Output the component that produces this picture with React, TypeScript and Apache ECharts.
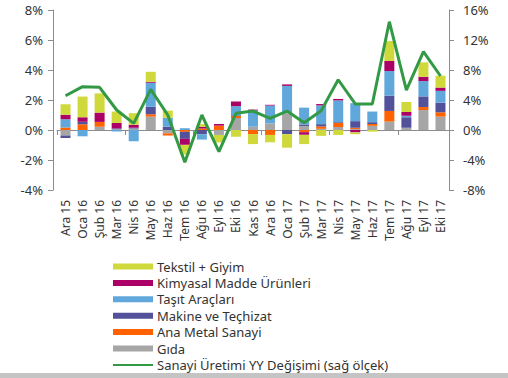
import React, { useEffect, useRef } from "react";
import * as echarts from "echarts";

const categories = ["Ara 15","Oca 16","Şub 16","Mar 16","Nis 16","May 16","Haz 16","Tem 16","Ağu 16","Eyl 16","Eki 16","Kas 16","Ara 16","Oca 17","Şub 17","Mar 17","Nis 17","May 17","Haz 17","Tem 17","Ağu 17","Eyl 17","Eki 17"];

const gida = [-0.37, 0, 0.22, 0.05, 0.1, 0.89, -0.22, 0, 0, -0.33, 0.8, 0.22, 0.44, 1.11, 0.27, 0.08, 0.2, 0.07, 0.28, 0.56, 0.15, 1.33, 0.89];
const anaMetal = [0.16, 0.38, 0.32, 0, 0, 0.16, -0.15, -0.12, 0.1, 0.29, 0.13, -0.27, -0.33, 0, -0.15, 0.16, 0.27, 0.08, 0.12, 0.71, 0, 0.2, 0.29];
const makine = [-0.16, 0.17, 0, 0.06, 0.05, 0.5, 0.22, -0.47, -0.28, 0, 0.05, 0, 0, -0.28, 0.1, 0.15, 0.05, 0.44, 0.12, 1.02, 0.7, 0.71, 0.64];
const tasit = [0.56, -0.42, 0, -0.1, -0.75, 1.6, 0.6, 0.12, -0.36, 0, 0.61, 1.09, 1.19, 1.83, 1.12, 1.25, 1.45, 1.2, 0.71, 1.64, 0.1, 1.02, 0.79];
const kimya = [0.29, 0.3, 0.62, 0.36, 0.2, 0.06, 0, -0.4, 0.12, 0.11, 0.31, 0.05, 0.05, 0.1, -0.17, 0.09, 0.1, -0.16, 0, 0.67, 0.25, 0.29, 0.22];
const tekstil = [0.71, 1.38, 1.28, 0.76, 0.77, 0.67, 0.47, -0.65, 0.17, -0.5, -0.45, -0.67, -0.49, -0.9, -0.62, -0.39, -0.33, -0.12, -0.11, 1.33, 0.67, 0.96, 0.79];
const sanayi = [4.57, 5.78, 5.69, 2.67, 0.89, 5.42, 2.0, -4.31, 2.0, -2.89, 2.22, 2.53, 1.56, 2.53, 0.98, 2.58, 6.7, 3.47, 3.47, 14.44, 5.33, 10.44, 7.2];

const leftTicks = { min: -4, max: 8, interval: 2 };
const rightTicks = { min: -8, max: 16, interval: 4 };

const FONT = "'Noto Sans', sans-serif";
const LINE_NAME = "Sanayi Üretimi YY Değişimi (sağ ölçek)";

export default function App() {
  const ref = useRef<HTMLDivElement>(null);
  useEffect(() => {
    if (!ref.current) return;
    const chart = echarts.init(ref.current, null, { renderer: "svg" });
    const barSeries = [
      { name: "Gıda", data: gida, color: "#a6a6a6" },
      { name: "Ana Metal Sanayi", data: anaMetal, color: "#ff6200" },
      { name: "Makine ve Teçhizat", data: makine, color: "#525199" },
      { name: "Taşıt Araçları", data: tasit, color: "#60a8dc" },
      { name: "Kimyasal Madde Ürünleri", data: kimya, color: "#ab0066" },
      { name: "Tekstil + Giyim", data: tekstil, color: "#d0d93c" },
    ].map((s) => ({
      type: "bar",
      name: s.name,
      data: s.data,
      stack: "total",
      barWidth: 10,
      xAxisIndex: 0,
      yAxisIndex: 0,
      itemStyle: { color: s.color },
    }));
    const axisGray = "#8c8c8c";
    chart.setOption({
      animation: false,
      textStyle: { fontFamily: FONT },
      grid: { left: 57, right: 59, top: 10, bottom: 188 },
      xAxis: [
        {
          type: "category",
          data: categories,
          position: "bottom",
          axisLine: { show: false, onZero: false },
          axisTick: { show: false },
          axisLabel: { rotate: 90, margin: 10, fontSize: 12, color: "#333", fontFamily: FONT, interval: 0 },
        },
        {
          type: "category",
          data: categories,
          position: "bottom",
          axisLine: { show: true, onZero: true, lineStyle: { color: axisGray, width: 1 } },
          axisTick: { show: true, length: 5, lineStyle: { color: axisGray } },
          axisLabel: { show: false },
        },
      ],
      yAxis: [
        {
          type: "value",
          ...leftTicks,
          offset: 4,
          axisLine: { show: true, lineStyle: { color: axisGray } },
          axisTick: { show: true, length: 5, lineStyle: { color: axisGray } },
          splitLine: { show: false },
          axisLabel: { formatter: "{value}%", fontSize: 13, color: "#333", margin: 10, fontFamily: FONT },
        },
        {
          type: "value",
          ...rightTicks,
          position: "right",
          axisLine: { show: true, lineStyle: { color: axisGray } },
          axisTick: { show: true, length: 5, lineStyle: { color: axisGray } },
          splitLine: { show: false },
          axisLabel: { formatter: "{value}%", fontSize: 13, color: "#333", margin: 14, fontFamily: FONT },
        },
      ],
      legend: {
        orient: "vertical",
        left: 107,
        top: 255,
        height: 123,
        itemWidth: 40,
        itemHeight: 6,
        itemGap: 3.4,
        textStyle: { fontSize: 13, lineHeight: 13, color: "#333", fontFamily: FONT, padding: [0, 0, 0, -1] },
        data: [
          { name: "Tekstil + Giyim", icon: "rect" },
          { name: "Kimyasal Madde Ürünleri", icon: "rect" },
          { name: "Taşıt Araçları", icon: "rect" },
          { name: "Makine ve Teçhizat", icon: "rect" },
          { name: "Ana Metal Sanayi", icon: "rect" },
          { name: "Gıda", icon: "rect" },
          { name: LINE_NAME, itemStyle: { opacity: 0 }, lineStyle: { width: 2 } },
        ],
      },
      graphic: [
        { type: "rect", left: 0, top: 373, shape: { width: 508, height: 5 }, style: { fill: "#c4c4c4" } },
      ],
      series: [
        ...barSeries,
        {
          type: "line",
          name: LINE_NAME,
          data: sanayi,
          xAxisIndex: 0,
          yAxisIndex: 1,
          symbol: "none",
          lineStyle: { color: "#339944", width: 3 },
          itemStyle: { color: "#339944" },
          z: 5,
        },
      ],
    });
    return () => chart.dispose();
  }, []);
  return <div ref={ref} style={{ width: 508, height: 378, position: "absolute", left: 0, top: 0 }} />;
}
